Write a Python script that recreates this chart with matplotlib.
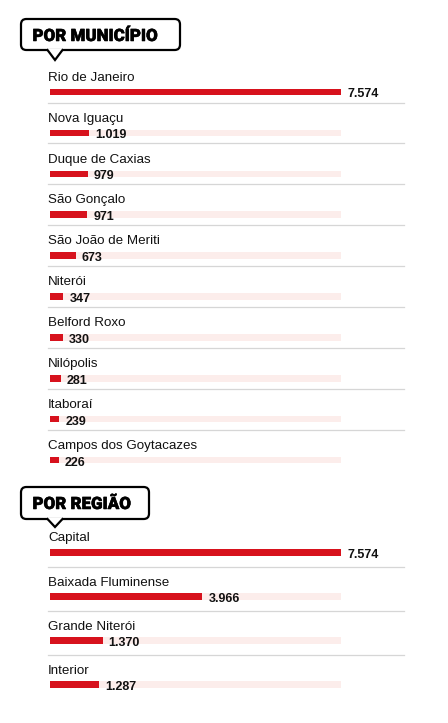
import matplotlib
matplotlib.use("Agg")
import matplotlib.pyplot as plt
from matplotlib.patches import FancyBboxPatch, Polygon
from matplotlib.lines import Line2D
from matplotlib import font_manager as fm
from matplotlib import patheffects as pe

# ---- data ----
municipios = ["Rio de Janeiro", "Nova Iguaçu", "Duque de Caxias", "São Gonçalo",
              "São João de Meriti", "Niterói", "Belford Roxo", "Nilópolis",
              "Itaboraí", "Campos dos Goytacazes"]
mun_values = [7574, 1019, 979, 971, 673, 347, 330, 281, 239, 226]

regioes = ["Capital", "Baixada Fluminense", "Grande Niterói", "Interior"]
reg_values = [7574, 3966, 1370, 1287]

title_mun = "POR MUNICÍPIO"
title_reg = "POR REGIÃO"

RED = "#d7121d"
TRACK = "#fcedeb"
SEP = "#d6d6d6"

W, H = 448, 723


def wnum(w):
    if isinstance(w, (int, float)):
        return w
    return fm.weight_dict.get(w, 400)


def find_font(families, minw, maxw):
    for fam in families:
        for f in fm.fontManager.ttflist:
            if f.name == fam and minw <= wnum(f.weight) <= maxw and f.style == "normal":
                if "Condensed" in f.fname or "Narrow" in f.fname:
                    continue
                return fm.FontProperties(fname=f.fname)
    return None


title_fp = find_font(["Roboto", "Lato", "Inter", "Open Sans", "Noto Sans"], 850, 1000) \
    or find_font(["Roboto", "Lato", "Inter", "Open Sans", "Noto Sans"], 750, 1000) \
    or fm.FontProperties(family="DejaVu Sans", weight="bold")
label_fp = find_font(["Liberation Sans", "Arial", "Roboto"], 350, 450) \
    or fm.FontProperties(family="DejaVu Sans")
value_fp = find_font(["Liberation Sans", "Arial", "Roboto"], 650, 750) \
    or fm.FontProperties(family="DejaVu Sans", weight="bold")

fig = plt.figure(figsize=(W / 100, H / 100), dpi=100)
fig.patch.set_facecolor("white")


def fmt(v):
    return f"{v:,}".replace(",", ".")


def make_panel(names, values, top_px, pitch, sep_off, base_off):
    n = len(names)
    left, right = 50, 341
    axh = n * pitch
    ax = fig.add_axes([left / W, 1 - (top_px + axh) / H, (right - left) / W, axh / H])
    ax.set_xlim(0, max(values))
    ax.set_ylim(n - 0.5, -0.5)
    ax.axis("off")
    bh = 6.5 / pitch
    ys = list(range(n))
    ax.barh(ys, [max(values)] * n, height=bh, color=TRACK, zorder=1)
    ax.barh(ys, values, height=bh, color=RED, zorder=2)
    lp = label_fp.copy(); lp.set_size(9.6)
    vp = value_fp.copy(); vp.set_size(9)
    for i, (name, v) in enumerate(zip(names, values)):
        ax.annotate(name, xy=(0, i), xytext=(-2, base_off), textcoords="offset pixels",
                    ha="left", va="baseline", fontproperties=lp, color="#111111")
        ax.annotate(fmt(v), xy=(v, i), xytext=(6, -5.4), textcoords="offset pixels",
                    ha="left", va="baseline", fontproperties=vp,
                    color="#111111", zorder=3)
        if i < n - 1:
            ax.axhline(i + sep_off / pitch, xmin=-2 / 291, xmax=354 / 291,
                       color=SEP, lw=0.9, clip_on=False, zorder=0)
    return ax


make_panel(municipios, mun_values, 92 - 40.9 / 2, 40.9, 10.5, 11.3)
make_panel(regioes, reg_values, 552.5 - 22, 44, 14, 11)


def P(x, y):
    return (x / W, 1 - y / H)


def bubble(x0, y0, x1, y1, tipx, tipy, baseline, text):
    box = FancyBboxPatch(P(x0, y1), (x1 - x0) / W, (y1 - y0) / H,
                         boxstyle="round,pad=0,rounding_size=0.012",
                         transform=fig.transFigure, facecolor="white",
                         edgecolor="black", lw=1.6, mutation_aspect=W / H)
    fig.add_artist(box)
    hw = 7.5
    tri = Polygon([P(tipx - hw - 1, y1 - 1.5), P(tipx, tipy), P(tipx + hw + 1, y1 - 1.5)],
                  closed=True, transform=fig.transFigure, facecolor="white",
                  edgecolor="none", zorder=3)
    fig.add_artist(tri)
    xs, ys = zip(P(tipx - hw, y1), P(tipx, tipy), P(tipx + hw, y1))
    fig.add_artist(Line2D(xs, ys, transform=fig.transFigure, color="black",
                          lw=1.6, solid_joinstyle="miter", zorder=4))
    tp = title_fp.copy(); tp.set_size(12.2)
    fig.text(*P(x0 + 11.5, baseline), text, ha="left", va="baseline",
             fontproperties=tp, color="black", zorder=5,
             path_effects=[pe.withStroke(linewidth=0.4, foreground="black")])


bubble(21, 19, 180, 50, 55, 60, 41, title_mun)
bubble(21, 487, 149, 519, 55, 527, 509, title_reg)

fig.savefig("out.png", dpi=100, facecolor="white")
